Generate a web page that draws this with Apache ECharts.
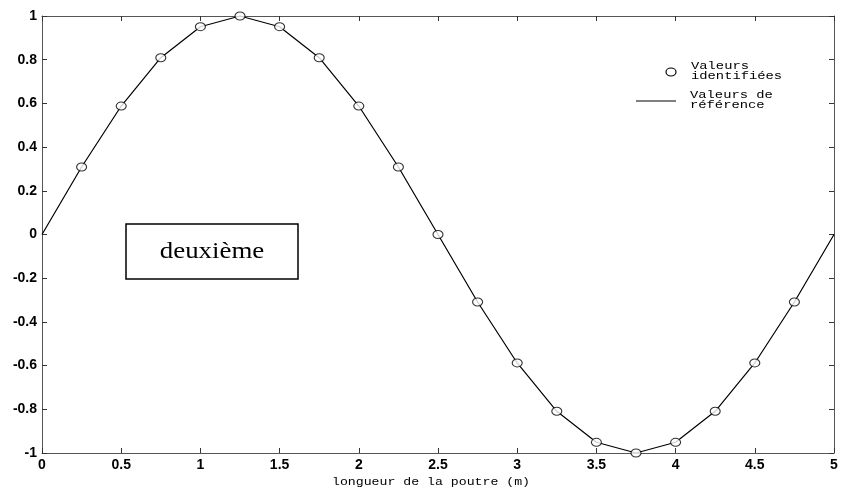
<!DOCTYPE html>
<html><head><meta charset="utf-8">
<script src="https://cdn.jsdelivr.net/npm/echarts@6/dist/echarts.min.js"></script>
<style>html,body{margin:0;padding:0;background:#fff}#c{width:845px;height:494px}</style>
</head><body><div id="c"></div>
<script>
const xIdent = [0.25,0.5,0.75,1,1.25,1.5,1.75,2,2.25,2.5,2.75,3,3.25,3.5,3.75,4,4.25,4.5,4.75];
const yIdent = [0.309,0.588,0.809,0.951,1.0,0.951,0.809,0.588,0.309,0.0,-0.309,-0.588,-0.809,-0.951,-1.0,-0.951,-0.809,-0.588,-0.309];
const xRef = [0,0.25,0.5,0.75,1,1.25,1.5,1.75,2,2.25,2.5,2.75,3,3.25,3.5,3.75,4,4.25,4.5,4.75,5];
const yRef = [0,0.309,0.588,0.809,0.951,1.0,0.951,0.809,0.588,0.309,0.0,-0.309,-0.588,-0.809,-0.951,-1.0,-0.951,-0.809,-0.588,-0.309,0];
const xTicks = ['0','0.5','1','1.5','2','2.5','3','3.5','4','4.5','5'];
const yTicks = ['-1','-0.8','-0.6','-0.4','-0.2','0','0.2','0.4','0.6','0.8','1'];
const xTitle = 'longueur de la poutre (m)';
const legendNames = ['Valeurs\nidentifiées','Valeurs de\nréférence'];
const boxText = 'deuxième';

const chart = echarts.init(document.getElementById('c'));
const tickFont = {fontFamily:'Liberation Sans', fontSize:14, color:'#000', fontWeight:'bold'};
const axLine = {show:true, onZero:false, lineStyle:{color:'#555', width:1}};
const tick = {show:true, inside:true, length:5, lineStyle:{color:'#333'}};
chart.setOption({
  animation:false,
  grid:{left:42, right:11, top:16, bottom:41, containLabel:false},
  xAxis:[{type:'value', min:0, max:5, interval:0.5, axisLine:axLine, axisTick:tick,
    splitLine:{show:false},
    axisLabel:Object.assign({margin:5, formatter:v=>xTicks[Math.round(v*2)]}, tickFont)},
   {type:'value', position:'top', min:0, max:5, interval:0.5, axisLine:axLine, axisTick:tick,
    axisLabel:{show:false}, splitLine:{show:false}}],
  yAxis:[{type:'value', min:-1, max:1, interval:0.2, axisLine:axLine, axisTick:tick,
    splitLine:{show:false},
    axisLabel:Object.assign({margin:5, formatter:v=>yTicks[Math.round((v+1)*5)]}, tickFont)},
   {type:'value', position:'right', min:-1, max:1, interval:0.2, axisLine:axLine, axisTick:tick,
    axisLabel:{show:false}, splitLine:{show:false}}],
  series:[
    {type:'line', data:xRef.map((x,i)=>[x,yRef[i]]), symbol:'none',
     lineStyle:{color:'#000', width:1.2}, z:2},
    {type:'scatter', data:xIdent.map((x,i)=>[x,yIdent[i]]), symbol:'circle',
     symbolSize:[10,8], itemStyle:{color:'#fff', borderColor:'#000', borderWidth:1}, z:3}
  ],
  graphic:[
    {type:'ellipse', shape:{cx:671, cy:72, rx:5, ry:4}, style:{fill:'#fff', stroke:'#000', lineWidth:1.2}},
    {type:'text', x:691, y:61, scaleX:1.38, style:{text:legendNames[0], font:'10px "Liberation Mono"', fill:'#000', lineHeight:10}},
    {type:'line', shape:{x1:636, y1:101, x2:676, y2:101}, style:{stroke:'#000', lineWidth:1.2}},
    {type:'text', x:690, y:90, scaleX:1.38, style:{text:legendNames[1], font:'10px "Liberation Mono"', fill:'#000', lineHeight:10}},
    {type:'text', x:431, y:482, scaleX:1.32, style:{text:xTitle, font:'10px "Liberation Mono"', fill:'#000', align:'center', verticalAlign:'middle'}},
    {type:'rect', shape:{x:126, y:224, width:172, height:55}, style:{fill:'#fff', stroke:'#000', lineWidth:1.5}},
    {type:'text', x:212, y:252, scaleX:1.12, style:{text:boxText, font:'24px "Liberation Serif"', fill:'#000', align:'center', verticalAlign:'middle'}}
  ]
});
</script></body></html>
